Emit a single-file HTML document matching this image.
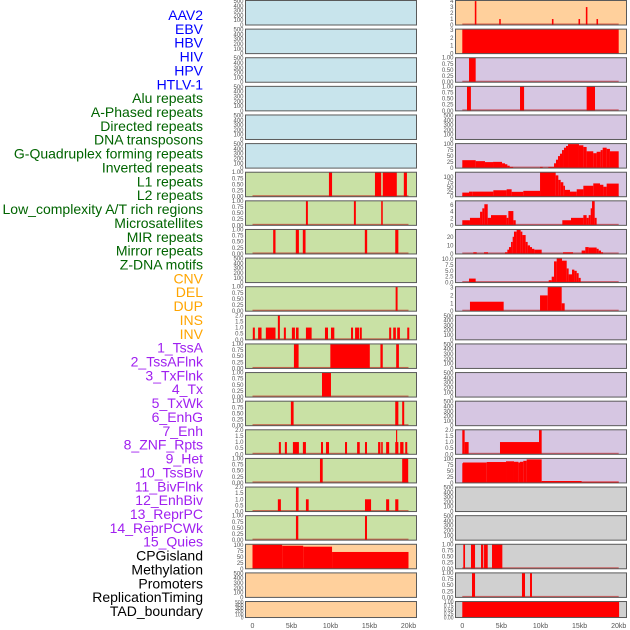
<!DOCTYPE html>
<html><head><meta charset="utf-8"><style>
html,body{margin:0;padding:0;background:#fff;}
svg{display:block;font-family:"Liberation Sans",sans-serif;}
</style></head><body>
<svg id="chart" width="630" height="630" viewBox="0 0 630 630" xmlns="http://www.w3.org/2000/svg"></svg>
<script>
const categories = ["AAV2","EBV","HBV","HIV","HPV","HTLV-1","Alu repeats","A-Phased repeats","Directed repeats","DNA transposons","G-Quadruplex forming repeats","Inverted repeats","L1 repeats","L2 repeats","Low_complexity A/T rich regions","Microsatellites","MIR repeats","Mirror repeats","Z-DNA motifs","CNV","DEL","DUP","INS","INV","1_TssA","2_TssAFlnk","3_TxFlnk","4_Tx","5_TxWk","6_EnhG","7_Enh","8_ZNF_Rpts","9_Het","10_TssBiv","11_BivFlnk","12_EnhBiv","13_ReprPC","14_ReprPCWk","15_Quies","CPGisland","Methylation","Promoters","ReplicationTiming","TAD_boundary"];
const categoryGroups = [0,0,0,0,0,0,1,1,1,1,1,1,1,1,1,1,1,1,1,2,2,2,2,2,3,3,3,3,3,3,3,3,3,3,3,3,3,3,3,4,4,4,4,4];
const groupColors = ["#0000ff","#006400","#ffa500","#a020f0","#000000"];
const xTicks = [0,5,10,15,20];
const xTickLabels = ["0","5kb","10kb","15kb","20kb"];

// axis types: name -> [ymax, ticks, decimals]
const T500 = [510,[0,100,200,300,400,500],0];
const T1 = [1.0,[0,0.25,0.5,0.75,1],2];
const T2 = [2.0,[0,0.5,1,1.5,2],1];
const T3 = [3.1,[0,1,2,3],0];
const T4 = [4.1,[0,1,2,3,4],0];
const T100 = [102,[0,25,50,75,100],0];
const T125 = [125,[0,25,50,75,100],0];
const T7 = [7.2,[0,2,4,6],0];
const T28 = [28.5,[0,10,20],0];
const T10 = [10.4,[0,2.5,5,7.5,10],1];

const midBg = ["#c8e4ec","#c8e4ec","#c8e4ec","#c8e4ec","#c8e4ec","#c8e4ec","#c9e1a5","#c9e1a5","#c9e1a5","#c9e1a5","#c9e1a5","#c9e1a5","#c9e1a5","#c9e1a5","#c9e1a5","#c9e1a5","#c9e1a5","#c9e1a5","#c9e1a5","#ffd09c","#ffd09c","#ffd09c"];
const midAxes = [T500,T500,T500,T500,T500,T500,T1,T1,T1,T500,T1,T2,T1,T1,T1,T2,T1,T2,T1,T100,T500,T500];
const midBars = [
 [],[],[],[],[],[],
 [[9.8,10.2,1],[15.7,16.5,1],[16.7,18.5,1],[19.4,19.8,1]],
 [[6.85,7.1,1],[13.0,13.25,1],[16.5,16.7,1]],
 [[2.65,2.95,1],[5.55,5.95,1],[6.45,6.8,1],[14.4,14.7,1],[18.3,18.7,1]],
 [],
 [[18.35,18.6,1]],
 [[0.04,0.3,1],[0.72,1.16,1],[1.71,2.95,1],[3.25,3.51,2],[4.02,4.28,1],[5.05,5.44,1],[5.57,5.91,1],[6.85,7.58,1],[9.29,9.68,1],[10.06,10.49,1],[12.63,12.89,1],[13.15,13.66,1],[13.75,14.01,1],[17.52,17.78,1],[18.04,18.38,1],[18.55,18.9,1],[19.84,20.1,1]],
 [[5.31,5.91,1],[9.98,15.04,1],[16.4,16.7,1],[18.42,18.77,1]],
 [[8.91,10.06,1]],
 [[4.92,5.27,1],[18.3,18.7,1],[19.19,19.45,1]],
 [[3.38,3.64,1],[4.15,4.41,1],[5.18,5.95,1],[6.46,6.85,1],[8.78,9.04,1],[9.42,9.81,1],[11.86,12.12,1],[13.41,13.75,1],[14.42,14.68,1],[16.1,16.4,1],[16.5,16.7,1],[17.13,17.52,1],[18.3,18.7,1],[18.4,18.55,2],[18.93,19.36,1],[19.58,19.84,1]],
 [[8.65,9.0,1],[19.19,19.96,1]],
 [[3.25,3.64,1],[5.57,5.91,2],[6.85,7.2,1],[14.42,15.2,1],[17.13,17.52,1],[18.3,18.7,1]],
 [[5.57,5.87,1],[14.42,14.68,1]],
 [[0,3.8,100],[3.8,6.5,96],[6.5,10.2,92],[10.2,20,70]],
 [],[]
];

const rightBg = ["#ffd09c","#ffd09c","#d6c6e2","#d6c6e2","#d6c6e2","#d6c6e2","#d6c6e2","#d6c6e2","#d6c6e2","#d6c6e2","#d6c6e2","#d6c6e2","#d6c6e2","#d6c6e2","#d6c6e2","#d6c6e2","#d6c6e2","#d0d0d0","#d0d0d0","#d0d0d0","#d0d0d0","#d0d0d0"];
const rightAxes = [T4,T3,T1,T1,T500,T100,T125,T7,T28,T10,T3,T500,T500,T500,T500,T2,T100,T500,T500,T1,T1,T1];
const rightBars = [
 [[1.6,1.8,4],[4.72,4.92,1],[11.46,11.66,1],[14.86,15.06,1],[15.8,16.0,3],[17.16,17.36,1]],
 [[0,20,3.1]],
 [[0.86,1.71,1]],
 [[0.6,1.1,1],[7.38,7.9,1],[15.9,16.97,1]],
 [],
 [[0,1.71,33],[1.71,2.9,29],[2.9,3.93,25],[3.93,5.08,26],[5.08,5.46,20],[5.46,5.76,16],[5.76,6.06,10],[6.06,6.5,5],[9.94,10.28,5],[11.0,11.73,5],[11.73,11.98,20],[11.98,12.24,35],[12.24,12.49,50],[12.49,12.75,60],[12.75,13.0,75],[13.0,13.26,85],[13.26,13.52,92],[13.52,14.92,100],[14.92,15.48,95],[15.48,15.9,88],[15.9,16.75,70],[16.75,17.18,62],[17.18,17.69,68],[17.69,17.95,75],[17.95,18.46,85],[18.46,18.88,80],[18.88,20.0,70]],
 [[0,0.86,21],[0.86,1.33,26],[1.33,3.97,26],[3.97,5.67,33],[5.67,6.31,38],[6.31,7.8,25],[7.8,9.94,30],[9.94,11.94,125],[11.94,12.28,109],[12.28,12.58,86],[12.58,12.92,74],[12.92,13.13,56],[13.13,13.77,35],[13.77,14.63,26],[14.63,15.48,38],[15.48,16.75,56],[16.75,17.61,68],[17.61,18.04,61],[18.04,18.46,51],[18.46,20.0,67]],
 [[0,0.98,1.5],[0.98,2.27,2.2],[2.27,2.56,4],[2.56,2.82,5],[2.82,3.25,6.2],[3.25,3.67,2.2],[3.67,5.67,3],[5.67,5.89,2.2],[5.89,6.53,4.2],[6.53,6.83,1.5],[12.79,13.9,1.5],[13.9,15.48,2.2],[15.48,15.9,3],[15.9,16.16,2.2],[16.16,16.42,3],[16.42,16.59,5],[16.59,16.93,7.2],[16.93,17.18,2.2]],
 [[1.41,1.84,2],[2.78,3.29,2],[5.46,5.76,2],[5.76,5.97,5],[5.97,6.23,8],[6.23,6.44,14],[6.44,6.61,20],[6.61,6.95,26],[6.95,7.46,28],[7.46,7.68,26],[7.68,8.1,22],[8.1,8.36,14],[8.36,8.66,10],[8.66,8.91,8],[8.91,9.21,6],[9.21,10.15,5],[12.88,14.16,2],[15.26,15.73,4],[15.73,16.16,8],[16.16,17.18,7.5],[17.18,17.44,6],[17.44,17.74,4],[17.74,18.0,2]],
 [[0.86,1.71,1.7],[11.05,11.43,1],[11.43,11.73,2.5],[11.73,12.07,9],[12.07,12.75,10.3],[12.75,13.35,9.3],[13.35,13.6,6],[13.6,14.03,3.5],[14.03,14.33,5.5],[14.33,14.63,5],[14.63,14.88,4],[14.88,15.14,2]],
 [[0.98,5.29,1.2],[9.94,10.92,2],[10.92,12.71,3.1],[12.71,13.09,1]],
 [],[],[],[],
 [[0,0.3,2],[0.3,0.81,1],[4.82,9.81,1],[9.81,10.15,2]],
 [[0,0.09,82],[0.09,3.12,85],[3.12,5.59,87],[5.59,6.61,90],[6.61,7.17,88],[7.17,7.38,85],[7.38,7.8,88],[7.8,8.23,92],[8.23,10.15,98],[10.15,15.26,8],[15.26,20.0,5]],
 [],[],
 [[0.13,0.35,1],[1.11,1.63,1],[2.39,2.69,1],[2.78,3.25,1],[3.8,5.12,1]],
 [[1.24,1.63,1],[7.63,8.02,1],[8.66,8.91,1]],
 [[0,20.05,1]]
];

const NS = "http://www.w3.org/2000/svg";
const svg = document.getElementById('chart');
function mk(tag, attrs, parent){ const e=document.createElementNS(NS,tag); for(const k in attrs) e.setAttribute(k,attrs[k]); (parent||svg).appendChild(e); return e; }

// labels
const labTop = 15, labStep = (611-15)/(categories.length-1);
categories.forEach((c,i)=>{
  const t = mk('text',{x:203,y:labTop+i*labStep+5,'text-anchor':'end','font-size':'14',fill:groupColors[categoryGroups[i]]});
  t.textContent = c;
  
  
});

const rowStep = 28.62;
function rowTop(i){ return i*rowStep + 0.5; }
function rowH(i){ return i===21 ? 16 : 24.5; }

function drawColumn(bgs, axes, bars, px, x0, kbScale, colName){
  const g = mk('g',{});
  
  
  for(let i=0;i<bgs.length;i++){
    const top=rowTop(i), h=rowH(i);
    const [ymax,ticks,dec] = axes[i];
    const yScale = v => top + h - (v/ymax)*h;
    const xScale = kb => x0 + kb*kbScale;
    const pg = mk('g',{},g);
    
    
    const bg = mk('rect',{x:px,y:top,width:171,height:h,fill:bgs[i]},pg);
    
    
    if(bars[i].length){
      const bl = mk('rect',{x:xScale(0),y:yScale(0)-1.5,width:xScale(20)-xScale(0),height:1.5,fill:'#c00000',opacity:0.55},pg);
      
      
    }
    bars[i].forEach(b=>{
      const v=Math.min(b[2],ymax);
      const r = mk('rect',{x:xScale(b[0]),y:yScale(v),width:Math.max(0.8,xScale(b[1])-xScale(b[0])),height:yScale(0)-yScale(v),fill:'#ff0000'},pg);
      
      
    });
    const br = mk('rect',{x:px,y:top,width:171,height:h,fill:'none',stroke:'#5a5a5a','stroke-width':1},pg);
    
    
    ticks.forEach(t=>{
      const tx = mk('text',{x:px-2,y:yScale(t)+2,'text-anchor':'end','font-size':(i===21?'5':'6'),fill:'#555'},pg);
      tx.textContent = t.toFixed(dec);
      
      
    });
  }
  xTicks.forEach((t,k)=>{
    const tx = mk('text',{x:x0+t*kbScale,y:628,'text-anchor':'middle','font-size':'7',fill:'#555'},g);
    tx.textContent = xTickLabels[k];
    
    
  });
}
drawColumn(midBg, midAxes, midBars, 245.5, 252.5, 7.8, 'middle-column');
drawColumn(rightBg, rightAxes, rightBars, 455.5, 462.3, 7.82, 'right-column');
</script>
</body></html>
